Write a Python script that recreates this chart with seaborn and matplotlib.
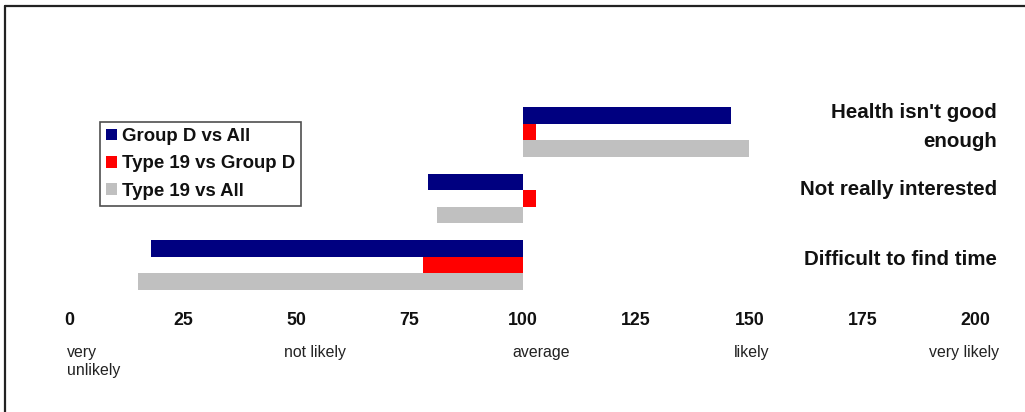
import numpy as np
import pandas as pd
import seaborn as sns
import matplotlib
matplotlib.use("Agg")
import matplotlib.pyplot as plt
from matplotlib.lines import Line2D
from matplotlib.patches import Patch
from matplotlib import transforms

# ---- data ----
reasons = ["Health isn't good\nenough", "Not really interested", "Difficult to find time"]
series = ["Group D vs All", "Type 19 vs Group D", "Type 19 vs All"]
group_d_vs_all = [146, 79, 18]
type19_vs_group_d = [103, 103, 78]
type19_vs_all = [150, 81, 15]
x_ticks = [0, 25, 50, 75, 100, 125, 150, 175, 200]
scale_labels = ["very\nunlikely", "not likely", "average", "likely", "very likely"]
baseline = 100

colors = ["#000080", "#FF0000", "#C0C0C0"]

rows = []
for s, vals in zip(series, [group_d_vs_all, type19_vs_group_d, type19_vs_all]):
    for r, v in zip(reasons, vals):
        rows.append({"reason": r, "series": s, "delta": v - baseline})
df = pd.DataFrame(rows)

sns.set_theme(style="white")
plt.rcParams["font.family"] = ["Liberation Sans", "DejaVu Sans"]

W, H = 1025, 412
fig = plt.figure(figsize=(W / 100, H / 100), dpi=100)
ax_left, ax_right = 69.7, 975.8
ax_top, ax_bot = 98.8, 298.0
ax = fig.add_axes([ax_left / W, 1 - ax_bot / H, (ax_right - ax_left) / W, (ax_bot - ax_top) / H])

sns.barplot(data=df, x="delta", y="reason", hue="series", hue_order=series,
            order=reasons, palette=colors, orient="h", width=0.75,
            errorbar=None, saturation=1, left=baseline, linewidth=0,
            legend=False, ax=ax)

ax.set_xlim(0, 200)
ax.set_ylim(2.5, -0.5)
ax.set_xlabel("")
ax.set_ylabel("")
for sp in ax.spines.values():
    sp.set_visible(False)
ax.grid(False)

ax.set_xticks(x_ticks)
ax.set_xticklabels([str(t) for t in x_ticks], fontweight="bold", fontsize=12.8)
ax.tick_params(axis="x", length=0, pad=10, colors="#111111")

ax.set_yticks(range(len(reasons)))
ax.tick_params(axis="y", left=False, right=False, labelleft=False, labelright=True,
               length=0, pad=15)
ax.set_yticklabels(reasons, fontweight="bold", fontsize=14.8, ha="right",
                   linespacing=1.68, color="#111111")
label_shift_px = [12, 10.5, 7]
for lab, sh in zip(ax.get_yticklabels(), label_shift_px):
    off = transforms.ScaledTranslation(0, sh / 100, fig.dpi_scale_trans)
    lab.set_transform(lab.get_transform() + off)

# secondary scale descriptors under the tick labels
scale_x = [-0.7, 47.4, 97.6, 146.5, 189.6]
blend = transforms.blended_transform_factory(ax.transData, fig.transFigure)
for xv, txt in zip(scale_x, scale_labels):
    ax.text(xv, 1 - 344.5 / H, txt, transform=blend, ha="left", va="top",
            fontsize=11.4, color="#222222", linespacing=1.33, clip_on=False)

# legend
handles = [Patch(facecolor=c, edgecolor="none", label=s) for c, s in zip(colors, series)]
leg = ax.legend(handles=handles, loc="upper left",
                bbox_to_anchor=((100 - ax_left) / (ax_right - ax_left),
                                1 - (122 - ax_top) / (ax_bot - ax_top)),
                borderaxespad=0, frameon=True, fancybox=False, shadow=False,
                prop={"weight": "bold", "size": 13.4}, handlelength=0.59,
                handleheight=0.59, handletextpad=0.25, labelspacing=0.55,
                borderpad=0.33)
for t in leg.get_texts():
    t.set_color("#111111")
leg.get_frame().set_edgecolor("#222222")
leg.get_frame().set_linewidth(1.2)

# outer frame lines (top and left)
fig.add_artist(Line2D([4.5 / W, 1.0], [1 - 5.5 / H, 1 - 5.5 / H], color="#222222", lw=1.6))
fig.add_artist(Line2D([4.5 / W, 4.5 / W], [0, 1 - 5.5 / H], color="#222222", lw=1.6))

fig.savefig("out.png", dpi=100)
